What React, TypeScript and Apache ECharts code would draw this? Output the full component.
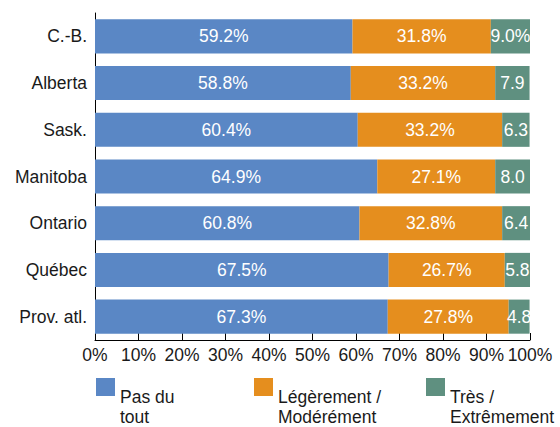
import React, { useEffect, useRef } from "react";
import * as echarts from "echarts";

const categories = ["C.-B.", "Alberta", "Sask.", "Manitoba", "Ontario", "Québec", "Prov. atl."];
const pasDuTout = [59.2, 58.8, 60.4, 64.9, 60.8, 67.5, 67.3];
const legerement = [31.8, 33.2, 33.2, 27.1, 32.8, 26.7, 27.8];
const tres = [9.0, 7.9, 6.3, 8.0, 6.4, 5.8, 4.8];
const tresLabels = ["9.0%", "7.9", "6.3", "8.0", "6.4", "5.8", "4.8"];
const seriesNames = ["Pas du\ntout", "Légèrement /\nModérément", "Très /\nExtrêmement"];
const colors = ["#5A87C5", "#E58E1E", "#5F9080"];
const xTicks = ["0%", "10%", "20%", "30%", "40%", "50%", "60%", "70%", "80%", "90%", "100%"];

const FONT = "'Liberation Sans', Arial, Helvetica, sans-serif";
const FS = 17.5;

export default function App() {
  const ref = useRef<HTMLDivElement>(null);
  useEffect(() => {
    if (!ref.current) return;
    const chart = echarts.init(ref.current, undefined, { renderer: "svg" });
    const labelBase = {
      show: true,
      position: "inside" as const,
      color: "#ffffff",
      fontSize: FS,
      fontFamily: FONT,
    };
    const legendPos = [96, 254, 426];
    chart.setOption({
      animation: false,
      textStyle: { fontFamily: FONT },
      grid: { left: 95, right: 30, top: 13, bottom: 87 },
      xAxis: {
        type: "value",
        min: 0,
        max: 100,
        interval: 10,
        axisLine: { show: true, lineStyle: { color: "#000", width: 1 } },
        axisTick: { show: true, inside: true, length: 7, lineStyle: { color: "#000" } },
        splitLine: { show: false },
        axisLabel: {
          color: "#1a1a1a",
          fontSize: FS,
          fontFamily: FONT,
          margin: 6,
          formatter: (v: number) => xTicks[Math.round(v / 10)],
        },
      },
      yAxis: {
        type: "category",
        data: categories,
        inverse: true,
        axisLine: { show: true, lineStyle: { color: "#000", width: 1 } },
        axisTick: { show: false },
        axisLabel: { color: "#1a1a1a", fontSize: FS, fontFamily: FONT, margin: 8 },
      },
      legend: seriesNames.map((n, i) => ({
        data: [n],
        left: legendPos[i],
        top: 347,
        padding: 0,
        itemWidth: 19,
        itemHeight: 18,
        itemGap: 6,
        icon: "rect",
        formatter: (name: string) => "\n\n" + name,
        textStyle: {
          color: "#1a1a1a",
          fontSize: FS,
          fontFamily: FONT,
          lineHeight: 20,
        },
      })),
      series: [
        {
          name: seriesNames[0],
          type: "bar",
          stack: "s",
          data: pasDuTout,
          barCategoryGap: "27%",
          itemStyle: { color: colors[0] },
          label: { ...labelBase, formatter: (p: any) => p.value.toFixed(1) + "%" },
        },
        {
          name: seriesNames[1],
          type: "bar",
          stack: "s",
          data: legerement,
          itemStyle: { color: colors[1] },
          label: { ...labelBase, formatter: (p: any) => p.value.toFixed(1) + "%" },
        },
        {
          name: seriesNames[2],
          type: "bar",
          stack: "s",
          data: tres,
          itemStyle: { color: colors[2] },
          label: { ...labelBase, formatter: (p: any) => tresLabels[p.dataIndex] },
        },
      ],
    });
    return () => chart.dispose();
  }, []);
  return (
    <div
      ref={ref}
      style={{ position: "absolute", left: 0, top: 0, width: 560, height: 427 }}
    />
  );
}
